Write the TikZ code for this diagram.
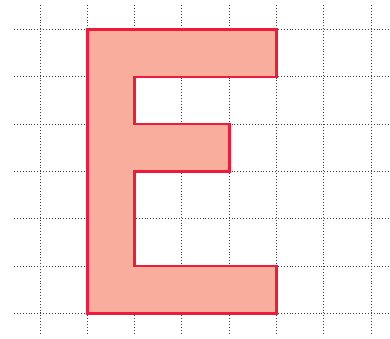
\documentclass[tikz,border=0pt]{standalone}
\definecolor{estroke}{RGB}{238,28,58}
\definecolor{efill}{RGB}{249,174,157}
\tikzset{gridline/.style={black!75,dotted,line width=0.9pt},
eshape/.style={draw=estroke,fill=efill,line width=2.6pt,line join=miter}}
\begin{document}
\begin{tikzpicture}[x=1pt,y=-1pt]
\useasboundingbox (0,0) rectangle (390,338);
% vertical lines
\foreach \i in {-1,...,6} {
  \draw[gridline] ({87.3+47.3*\i},5) -- ({87.3+47.3*\i},334);
}
% horizontal lines
\foreach \j in {0,...,6} {
  \draw[gridline] (14,{29.5+47.3*\j}) -- (390,{29.5+47.3*\j});
}
\def\g{47.3}
\draw[eshape] (87.3,29.5) -- ++(4*\g,0) -- ++(0,\g) -- ++(-3*\g,0) -- ++(0,\g)
  -- ++(2*\g,0) -- ++(0,\g) -- ++(-2*\g,0) -- ++(0,2*\g) -- ++(3*\g,0)
  -- ++(0,\g) -- ++(-4*\g,0) -- cycle;
\end{tikzpicture}
\end{document}
